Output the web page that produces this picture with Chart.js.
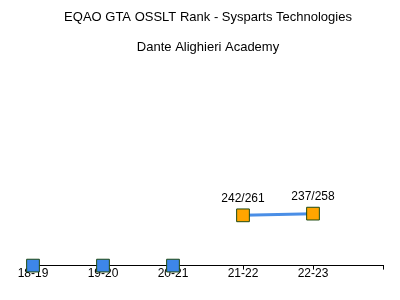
<!DOCTYPE html>
<html>
<head>
<meta charset="utf-8">
<script src="https://cdn.jsdelivr.net/npm/chart.js@4.4.0/dist/chart.umd.min.js"></script>
<style>
  html, body { margin: 0; padding: 0; background: #fff; }
  #box { width: 400px; height: 300px; }
</style>
</head>
<body>
<div id="box"><canvas id="grafica" width="400" height="300"></canvas></div>
<script>
// datos
const anios = ['18-19', '19-20', '20-21', '21-22', '22-23', ''];
const rangos = [null, null, null, 242, 237, null];
const totales = [null, null, null, 261, 258, null];

const Y_MIN = -200;
const Y_MAX = 390;
const fuente = '"Liberation Sans", Arial, sans-serif';

// anios sin dato se marcan sobre el eje
const sinDato = rangos.map((r, i) => (r === null && i < 3) ? Y_MAX : null);

const etiquetas = {
  id: 'etiquetas',
  afterDatasetsDraw(chart) {
    const ctx = chart.ctx;
    const meta = chart.getDatasetMeta(0);
    ctx.save();
    ctx.font = '12px ' + fuente;
    ctx.fillStyle = '#000';
    ctx.textAlign = 'center';
    ctx.textBaseline = 'middle';
    meta.data.forEach((p, i) => {
      if (rangos[i] === null) return;
      ctx.fillText(rangos[i] + '/' + totales[i], p.x, p.y - 17);
    });
    ctx.restore();
  }
};

new Chart(document.getElementById('grafica'), {
  type: 'line',
  data: {
    labels: anios,
    datasets: [{
      label: 'Rank',
      data: rangos,
      borderColor: '#4a8ee6',
      borderWidth: 3,
      pointStyle: 'rect',
      pointRadius: 9,
      pointBackgroundColor: '#ffa500',
      pointBorderColor: '#1f4a12',
      pointBorderWidth: 1,
      clip: false
    }, {
      label: 'Sin dato',
      data: sinDato,
      showLine: false,
      pointStyle: 'rect',
      pointRadius: 9,
      pointBackgroundColor: '#3d86ea',
      pointBorderColor: '#1f4a12',
      pointBorderWidth: 1,
      clip: false
    }]
  },
  options: {
    responsive: false,
    animation: false,
    layout: { padding: { left: 33, right: 17, top: 0, bottom: 22 } },
    plugins: {
      legend: { display: false },
      tooltip: { enabled: false },
      title: {
        display: true,
        text: 'EQAO GTA OSSLT Rank - Sysparts Technologies',
        color: '#000',
        font: { family: fuente, size: 13, weight: 'normal' },
        padding: { top: 10, bottom: 7 }
      },
      subtitle: {
        display: true,
        text: 'Dante Alighieri Academy',
        color: '#000',
        font: { family: fuente, size: 13, weight: 'normal' },
        padding: { top: 7, bottom: 10 }
      }
    },
    scales: {
      x: {
        offset: false,
        grid: { drawOnChartArea: false, drawTicks: true, tickLength: 4, color: '#000' },
        border: { color: '#000', width: 1 },
        ticks: { color: '#000', font: { family: fuente, size: 12 }, padding: -3, maxRotation: 0, autoSkip: false }
      },
      y: {
        display: false,
        reverse: true,
        min: Y_MIN,
        max: Y_MAX
      }
    }
  },
  plugins: [etiquetas]
});
</script>
</body>
</html>
